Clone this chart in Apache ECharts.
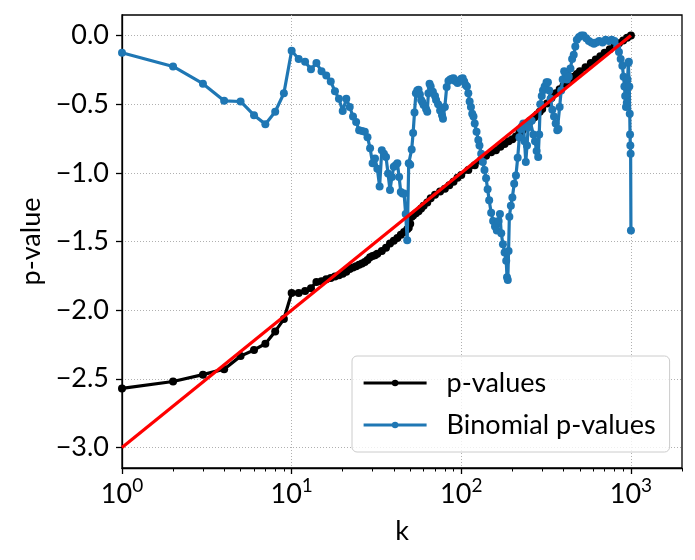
<!DOCTYPE html>
<html>
<head>
<meta charset="utf-8">
<script src="https://cdn.jsdelivr.net/npm/echarts@6/dist/echarts.min.js"></script>
<style>
html,body{margin:0;padding:0;background:#fff;}
#c{width:695px;height:560px;}
</style>
</head>
<body>
<div id="c"></div>
<script>
// ---- data ----
const blackK = [1,2,3,4,5,6,7,8,9,10,11,12,13,14,15,16,17,18,19,20,21,22,23,24,25,26,27,28,29,30,
  31,32,34,36,38,40,42,44,46,48,49,50,51,52,54,56,58,60,63,66,70,75,80,85,90,95,100,
  110,120,130,140,150,160,170,180,190,200,210,220,230,240,250,260,270,280,290,300,
  320,340,360,380,400,420,440,460,480,500,540,580,620,660,700,750,800,850,900,950,1000];
const blackV = [-2.57,-2.52,-2.47,-2.43,-2.335,-2.29,-2.245,-2.155,-2.065,-1.875,-1.875,-1.86,-1.84,-1.795,-1.79,-1.775,-1.765,-1.755,-1.745,-1.735,-1.72,-1.70,-1.69,-1.68,-1.67,-1.66,-1.65,-1.635,-1.615,-1.605,
  -1.60,-1.59,-1.57,-1.545,-1.515,-1.495,-1.475,-1.45,-1.43,-1.41,-1.40,-1.37,-1.32,-1.31,-1.295,-1.28,-1.26,-1.24,-1.215,-1.185,-1.16,-1.135,-1.115,-1.09,-1.065,-1.035,-1.015,
  -0.98,-0.945,-0.91,-0.875,-0.85,-0.835,-0.81,-0.79,-0.77,-0.755,-0.735,-0.71,-0.69,-0.665,-0.64,-0.615,-0.595,-0.575,-0.555,-0.535,
  -0.495,-0.455,-0.42,-0.39,-0.365,-0.345,-0.32,-0.30,-0.28,-0.26,-0.23,-0.20,-0.175,-0.15,-0.125,-0.10,-0.075,-0.055,-0.035,-0.015,0.0];

const blueK = [1,2,3,4,5,6,7,8,9,10,
  11,12,13,14,15,16,17,18,19,20,
  21,22,23,24,25,26,27,28,29,30,
  31,32,33,34,35,36,37,38,39,40,
  41,42,43,44,45,46,47,48,49,50,
  51,52,53,54,55,56,57,58,59,60,
  62,63,64,65,66,68,70,71,73,75,
  77,78,80,82,84,86,88,90,92,95,
  98,100,102,104,106,108,110,112,114,116,
  118,120,123,126,128,131,134,137,140,143,
  146,150,154,158,162,166,169,172,176,180,
  184,186,188,190,192,196,200,205,210,215,
  220,224,228,232,236,240,244,248,254,260,
  266,272,278,284,288,292,298,303,310,318,
  324,330,336,344,352,360,368,374,380,388,
  396,404,412,420,430,440,450,460,470,480,
  495,510,525,545,565,585,605,625,650,680,
  710,740,770,800,830,850,870,890,905,915,
  925,935,945,955,965,972,978,984,988,992,
  996,1000];
const blueV = [-0.125,-0.225,-0.35,-0.475,-0.48,-0.58,-0.645,-0.555,-0.42,-0.11,
  -0.17,-0.19,-0.245,-0.20,-0.26,-0.29,-0.335,-0.405,-0.46,-0.55,
  -0.46,-0.52,-0.59,-0.63,-0.69,-0.695,-0.70,-0.74,-0.82,-0.93,
  -0.895,-0.97,-1.10,-0.835,-0.86,-0.885,-1.005,-1.125,-1.03,-0.955,
  -0.945,-0.93,-1.03,-1.14,-1.15,-1.15,-1.30,-1.49,-0.93,-0.94,
  -0.83,-0.71,-0.56,-0.42,-0.40,-0.395,-0.43,-0.47,-0.485,-0.505,
  -0.535,-0.555,-0.42,-0.35,-0.37,-0.41,-0.44,-0.47,-0.50,-0.545,
  -0.58,-0.605,-0.52,-0.375,-0.33,-0.32,-0.315,-0.31,-0.33,-0.345,
  -0.325,-0.315,-0.31,-0.335,-0.36,-0.37,-0.42,-0.48,-0.52,-0.57,
  -0.59,-0.64,-0.70,-0.76,-0.80,-0.86,-0.92,-0.98,-1.04,-1.12,
  -1.20,-1.29,-1.35,-1.39,-1.42,-1.35,-1.30,-1.44,-1.52,-1.58,
  -1.64,-1.76,-1.78,-1.57,-1.32,-1.24,-1.18,-1.08,-1.02,-0.89,
  -0.74,-0.68,-0.66,-0.64,-0.77,-0.92,-0.80,-0.67,-0.62,-0.62,
  -0.72,-0.77,-0.84,-0.885,-0.72,-0.50,-0.44,-0.40,-0.37,-0.34,
  -0.34,-0.40,-0.46,-0.54,-0.59,-0.64,-0.69,-0.68,-0.52,-0.40,
  -0.32,-0.26,-0.28,-0.32,-0.30,-0.24,-0.17,-0.14,-0.08,-0.03,
  -0.01,0.00,0.00,-0.02,-0.04,-0.05,-0.06,-0.05,-0.04,-0.05,
  -0.03,-0.04,-0.03,-0.04,-0.08,-0.12,-0.17,-0.22,-0.30,-0.37,
  -0.44,-0.52,-0.49,-0.32,-0.20,-0.19,-0.37,-0.57,-0.72,-0.80,
  -0.86,-1.42];

const refK = [1, 1000];
const refV = [-3, 0];

const xMajorTicks = [1, 10, 100, 1000];
const xMinorTicks = [2,3,4,5,6,7,8,9,20,30,40,50,60,70,80,90,200,300,400,500,600,700,800,900,2000];
const yTicks = [-3.0,-2.5,-2.0,-1.5,-1.0,-0.5,0.0];

// ---- chart ----
const FONT = 'Lato';
const FS = 27;
const pairs = (ks, vs) => ks.map((k, i) => [k, vs[i]]);
const chart = echarts.init(document.getElementById('c'), null, {renderer: 'canvas'});

const gridLine = {show: true, lineStyle: {color: '#b0b0b0', width: 1, type: [1, 2]}};
const option = {
  animation: false,
  backgroundColor: '#ffffff',
  textStyle: {fontFamily: FONT},
  grid: {left: 122, right: 13, top: 15, bottom: 92, show: true, borderColor: '#000', borderWidth: 1.3, backgroundColor: 'transparent'},
  legend: {
    data: ['p-values', 'Binomial p-values'],
    orient: 'vertical',
    left: 352, top: 356,
    padding: [12, 14, 12, 10],
    itemWidth: 63, itemHeight: 8, itemGap: 12,
    lineStyle: {width: 3.2},
    backgroundColor: 'rgba(255,255,255,0.8)',
    borderColor: '#cccccc', borderWidth: 1, borderRadius: 5,
    textStyle: {fontFamily: FONT, fontSize: FS, color: '#000', lineHeight: 30, padding: [0, 0, 0, 15]}
  },
  xAxis: [{
    type: 'log', logBase: 10, min: 1, max: 2000,
    name: 'k', nameLocation: 'middle', nameGap: 50,
    nameTextStyle: {fontFamily: FONT, fontSize: FS, color: '#000'},
    axisLine: {show: true, onZero: false, lineStyle: {color: '#000', width: 1.3}},
    axisTick: {show: true, inside: false, length: 6, lineStyle: {color: '#000', width: 1.3}, customValues: xMajorTicks},
    axisLabel: {
      customValues: xMajorTicks, margin: 8, color: '#000',
      formatter: v => '{b|10}{s|' + Math.round(Math.log10(v)) + '}',
      rich: {
        b: {fontFamily: FONT, fontSize: FS, color: '#000', lineHeight: 32, verticalAlign: 'bottom'},
        s: {fontFamily: FONT, fontSize: 19, color: '#000', lineHeight: 32, verticalAlign: 'top'}
      }
    },
    splitLine: gridLine,
    minorTick: {show: false}
  }, {
    type: 'log', logBase: 10, min: 1, max: 2000, gridIndex: 0, position: 'bottom',
    axisLine: {show: false, onZero: false},
    axisLabel: {show: false},
    splitLine: {show: false},
    axisTick: {show: true, inside: false, length: 3.5, lineStyle: {color: '#000', width: 1}, customValues: xMinorTicks}
  }],
  yAxis: {
    type: 'value', min: -3.15, max: 0.15, splitNumber: 7,
    name: 'p-value', nameLocation: 'middle', nameGap: 74,
    nameTextStyle: {fontFamily: FONT, fontSize: FS, color: '#000'},
    axisLine: {show: true, onZero: false, lineStyle: {color: '#000', width: 1.3}},
    axisTick: {show: true, inside: false, length: 6, lineStyle: {color: '#000', width: 1.3}, customValues: yTicks},
    axisLabel: {
      customValues: yTicks, margin: 13, color: '#000', fontFamily: FONT, fontSize: FS,
      formatter: v => (v < -1e-9 ? '\u2212' : '') + Math.abs(v).toFixed(1)
    },
    splitLine: gridLine
  },
  series: [{
    name: 'p-values', type: 'line', data: pairs(blackK, blackV),
    color: '#000000',
    lineStyle: {color: '#000000', width: 3.2},
    itemStyle: {color: '#000000'},
    symbol: 'circle', symbolSize: 8, showSymbol: true, z: 2
  }, {
    name: 'Binomial p-values', type: 'line', data: pairs(blueK, blueV),
    color: '#1f77b4',
    lineStyle: {color: '#1f77b4', width: 3.2},
    itemStyle: {color: '#1f77b4'},
    symbol: 'circle', symbolSize: 8, showSymbol: true, z: 3
  }, {
    name: 'expected', type: 'line', data: pairs(refK, refV),
    lineStyle: {color: '#ff0000', width: 3.2},
    itemStyle: {color: '#ff0000'},
    symbol: 'none', showSymbol: false, z: 4
  }]
};
chart.setOption(option);
</script>
</body>
</html>
